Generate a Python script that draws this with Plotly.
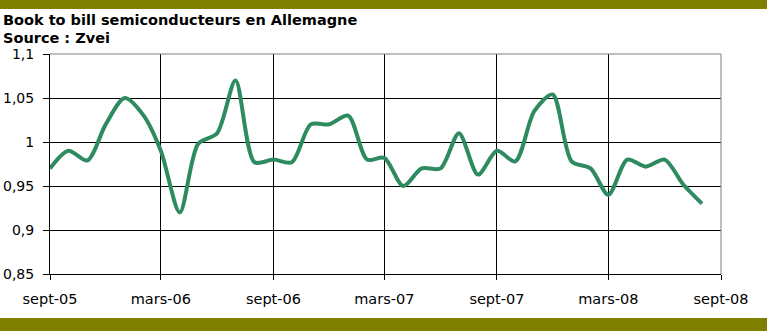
import plotly.graph_objects as go
import pandas as pd

# Data
months = pd.date_range("2005-09-01", periods=36, freq="MS").strftime("%Y-%m-%d").tolist()
book_to_bill = [0.970, 0.990, 0.979, 1.020, 1.050, 1.030, 0.990, 0.920, 0.998, 1.010,
                1.070, 0.977, 0.980, 0.977, 1.020, 1.020, 1.030, 0.980, 0.982, 0.950,
                0.970, 0.970, 1.010, 0.963, 0.990, 0.978, 1.035, 1.054, 0.978, 0.970,
                0.940, 0.980, 0.972, 0.980, 0.952, 0.930]
x_tick_vals = ["2005-09-01", "2006-03-01", "2006-09-01", "2007-03-01",
               "2007-09-01", "2008-03-01", "2008-09-01"]
x_tick_text = ["sept-05", "mars-06", "sept-06", "mars-07", "sept-07", "mars-08", "sept-08"]
y_tick_vals = [0.85, 0.9, 0.95, 1.0, 1.05, 1.1]
y_tick_text = ["0,85", "0,9", "0,95", "1", "1,05", "1,1"]

W, H = 767, 331
L, R, T, B = 50, 721, 54, 274  # plot area in pixels


def px_x(p):
    return (p - L) / (R - L)


def px_y(p):
    return (B - p) / (B - T)


fig = go.Figure()
fig.add_trace(go.Scatter(
    x=months, y=book_to_bill, mode="lines",
    line=dict(color="#2E8B5F", width=4, shape="spline", smoothing=0.8),
    hoverinfo="skip", showlegend=False,
))

olive = "#808000"
shapes = [
    dict(type="rect", xref="paper", yref="paper", x0=px_x(-5), x1=px_x(W + 5),
         y0=px_y(0 - 2), y1=px_y(9), fillcolor=olive, line=dict(width=0), layer="below"),
    dict(type="rect", xref="paper", yref="paper", x0=px_x(-5), x1=px_x(W + 5),
         y0=px_y(318), y1=px_y(H + 3), fillcolor=olive, line=dict(width=0), layer="below"),
    dict(type="line", xref="paper", yref="paper", x0=0, x1=1, y0=1, y1=1,
         line=dict(color="#808080", width=1), layer="above"),
    dict(type="line", xref="paper", yref="paper", x0=1, x1=1, y0=0, y1=1,
         line=dict(color="#808080", width=1), layer="above"),
]

title_font = dict(family="DejaVu Sans", size=14.5, color="black")
annotations = [
    dict(text="<b>Book to bill semiconducteurs en Allemagne</b>", xref="paper", yref="paper",
         x=px_x(1), y=px_y(20), xanchor="left", yanchor="middle", showarrow=False,
         font=title_font),
    dict(text="<b>Source : Zvei</b>", xref="paper", yref="paper",
         x=px_x(1), y=px_y(38), xanchor="left", yanchor="middle", showarrow=False,
         font=title_font),
]

fig.update_layout(
    width=W, height=H,
    margin=dict(l=L, r=W - R, t=T, b=H - B, pad=0, autoexpand=False),
    paper_bgcolor="white", plot_bgcolor="white",
    shapes=shapes, annotations=annotations,
    font=dict(family="DejaVu Sans", size=14, color="black"),
)
fig.update_xaxes(
    range=["2005-09-01", "2008-09-01"], tickmode="array",
    tickvals=x_tick_vals, ticktext=x_tick_text,
    tickfont=dict(size=14.5),
    showgrid=True, gridcolor="black", gridwidth=1,
    showline=True, linecolor="black", linewidth=1,
    ticks="outside", ticklen=5, tickcolor="black", tickwidth=1,
    ticklabelstandoff=7, automargin=False,
    zeroline=False, fixedrange=True,
)
fig.update_yaxes(
    range=[0.85, 1.1], tickmode="array",
    tickvals=y_tick_vals, ticktext=y_tick_text,
    tickfont=dict(size=14),
    showgrid=True, gridcolor="black", gridwidth=1,
    showline=True, linecolor="black", linewidth=1,
    ticks="outside", ticklen=6, tickcolor="black", tickwidth=1,
    ticklabelstandoff=6, automargin=False,
    zeroline=False, fixedrange=True,
)

fig.write_html("out.html", config={"displayModeBar": False})
